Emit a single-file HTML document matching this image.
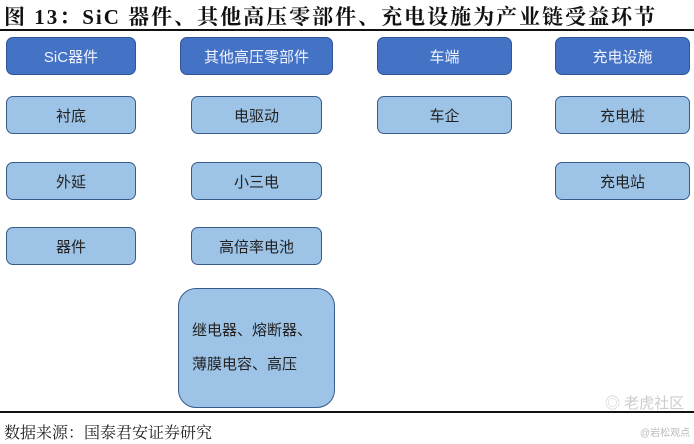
<!DOCTYPE html>
<html><head><meta charset="utf-8"><style>
body{margin:0;width:694px;height:444px;background:#fff;position:relative;overflow:hidden;font-family:"Liberation Sans","Noto Sans CJK SC",sans-serif}
.t{position:absolute;left:4px;top:1px;font-family:"Liberation Serif","Noto Serif CJK SC",serif;font-weight:bold;font-size:21px;color:#111;white-space:nowrap;letter-spacing:2px}
.l{position:absolute;left:0;width:694px;height:2px;background:#111}
.b{position:absolute;box-sizing:border-box;border:1.5px solid #3a5a8c;border-radius:7px;display:flex;align-items:center;justify-content:center;font-size:15px;color:#222;background:#9dc3e6;text-align:center}
.d{background:#4472c4;color:#f0f4ff;border-color:#2f5597}
.s{position:absolute;left:4px;top:420px;font-family:"Liberation Serif","Noto Serif CJK SC",serif;font-size:16px;color:#222}
</style></head><body>
<div class="t">图 13：SiC 器件、其他高压零部件、充电设施为产业链受益环节</div>
<div class="l" style="top:29px"></div>
<div class="b d" style="left:6px;top:37px;width:130px;height:38px">SiC器件</div>
<div class="b d" style="left:180px;top:37px;width:153px;height:38px">其他高压零部件</div>
<div class="b d" style="left:377px;top:37px;width:135px;height:38px">车端</div>
<div class="b d" style="left:555px;top:37px;width:135px;height:38px">充电设施</div>
<div class="b" style="left:6px;top:96px;width:130px;height:38px">衬底</div>
<div class="b" style="left:191px;top:96px;width:131px;height:38px">电驱动</div>
<div class="b" style="left:377px;top:96px;width:135px;height:38px">车企</div>
<div class="b" style="left:555px;top:96px;width:135px;height:38px">充电桩</div>
<div class="b" style="left:6px;top:162px;width:130px;height:38px">外延</div>
<div class="b" style="left:191px;top:162px;width:131px;height:38px">小三电</div>
<div class="b" style="left:555px;top:162px;width:135px;height:38px">充电站</div>
<div class="b" style="left:6px;top:227px;width:130px;height:38px">器件</div>
<div class="b" style="left:191px;top:227px;width:131px;height:38px">高倍率电池</div>
<div class="b" style="left:178px;top:288px;width:157px;height:120px;border-radius:18px;line-height:34px;justify-content:flex-start;text-align:left;padding-left:13px">继电器、熔断器、<br>薄膜电容、高压</div>
<div class="l" style="top:411px"></div>
<div class="s">数据来源：国泰君安证券研究</div>
<div style="position:absolute;left:605px;top:392px;font-size:15px;color:#ccc">◎ 老虎社区</div>
<div style="position:absolute;left:640px;top:424px;font-size:10px;color:#bbb">@岩松观点</div>
</body></html>
